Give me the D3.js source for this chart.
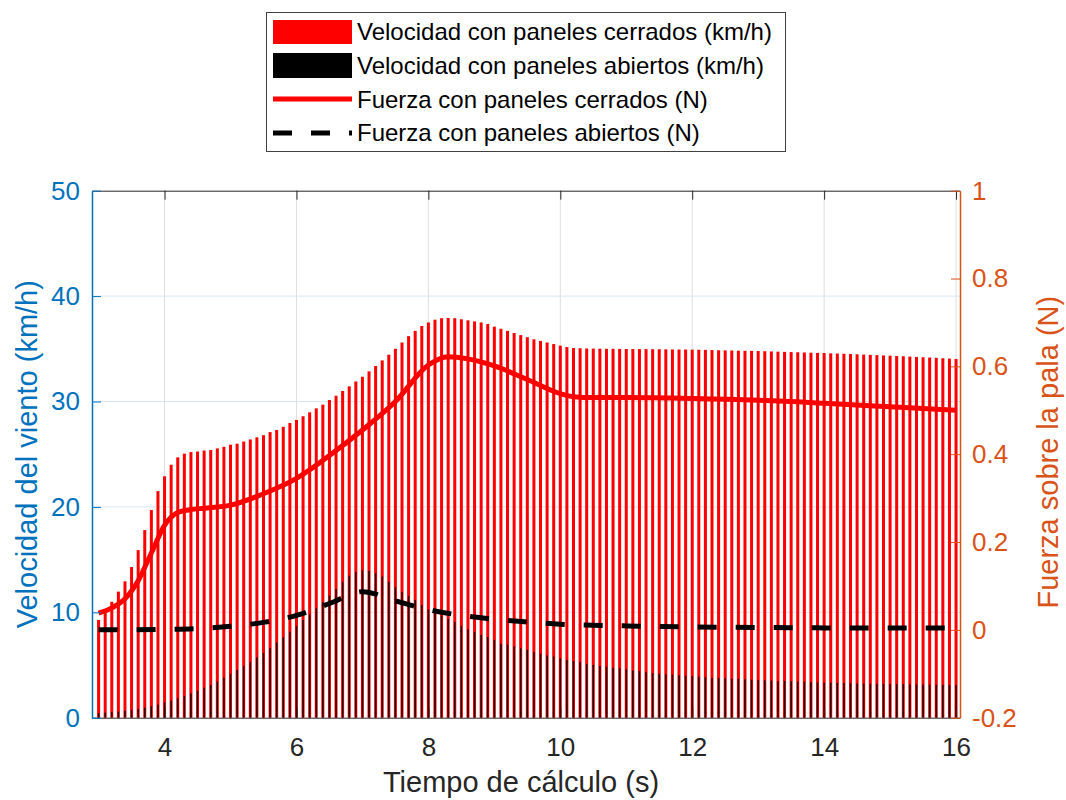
<!DOCTYPE html>
<html>
<head>
<meta charset="utf-8">
<script src="https://cdn.jsdelivr.net/npm/d3@7"></script>
<style>
  body { margin: 0; background: #fff; }
  text { font-family: "Liberation Sans", Arial, Helvetica, sans-serif; }
</style>
</head>
<body>
<div id="result"></div>
<script>
// velocidad del viento con paneles cerrados (km/h), una barra cada 0.1 s desde 3 s
const velCerrados = [
    9.27, 10.06, 11.0, 11.96, 12.94, 14.3, 15.9, 17.8, 19.7, 21.5,
    22.9, 24.0, 24.7, 25.05, 25.2, 25.25, 25.35, 25.4, 25.55, 25.7,
    25.9, 26.0, 26.2, 26.4, 26.6, 26.8, 27.1, 27.3, 27.6, 27.96,
    28.25, 28.6, 28.97, 29.35, 29.7, 30.14, 30.55, 31.0, 31.44, 31.9,
    32.35, 32.86, 33.37, 33.9, 34.44, 35.0, 35.6, 36.2, 36.7, 37.16,
    37.5, 37.76, 37.9, 37.92, 37.9, 37.8, 37.7, 37.6, 37.5, 37.35,
    37.1, 36.9, 36.7, 36.5, 36.3, 36.1, 35.9, 35.75, 35.6, 35.45,
    35.3, 35.17, 35.07, 35.05, 35.03, 35.02, 35.01, 35.0, 35.0, 34.99,
    34.98, 34.98, 34.97, 34.97, 34.96, 34.96, 34.95, 34.94, 34.93, 34.93,
    34.92, 34.91, 34.9, 34.88, 34.86, 34.85, 34.84, 34.82, 34.81, 34.8,
    34.79, 34.77, 34.75, 34.73, 34.71, 34.69, 34.67, 34.65, 34.63, 34.61,
    34.6, 34.57, 34.55, 34.53, 34.5, 34.48, 34.45, 34.42, 34.4, 34.37,
    34.35, 34.32, 34.29, 34.26, 34.23, 34.2, 34.17, 34.14, 34.1, 34.07,
    34.03
];

// velocidad del viento con paneles abiertos (km/h)
const velAbiertos = [
    0.42, 0.48, 0.54, 0.57, 0.64, 0.73, 0.83, 0.95, 1.08, 1.24,
    1.43, 1.62, 1.84, 2.06, 2.31, 2.53, 2.85, 3.1, 3.42, 3.8,
    4.15, 4.53, 4.9, 5.28, 5.73, 6.14, 6.61, 7.12, 7.63, 8.16,
    8.7, 9.27, 9.8, 10.38, 10.98, 11.58, 12.21, 12.85, 13.47, 13.82,
    13.98, 13.92, 13.7, 13.38, 12.87, 12.37, 11.93, 11.55, 11.17, 10.69,
    10.28, 9.96, 9.68, 9.36, 9.08, 8.7, 8.38, 8.13, 7.85, 7.66,
    7.37, 7.02, 6.93, 6.77, 6.6, 6.45, 6.23, 6.07, 5.91, 5.79,
    5.63, 5.47, 5.38, 5.28, 5.09, 5.0, 4.9, 4.84, 4.74, 4.68,
    4.59, 4.49, 4.4, 4.33, 4.24, 4.17, 4.11, 4.08, 4.02, 3.98,
    3.95, 3.89, 3.83, 3.79, 3.76, 3.73, 3.7, 3.67, 3.64, 3.6,
    3.57, 3.54, 3.51, 3.48, 3.48, 3.45, 3.42, 3.42, 3.38, 3.35,
    3.32, 3.32, 3.29, 3.29, 3.26, 3.25, 3.24, 3.22, 3.21, 3.2,
    3.19, 3.18, 3.17, 3.16, 3.15, 3.14, 3.13, 3.12, 3.12, 3.11,
    3.1
];

// tiempos de las barras (s)
const tiempoBarras = d3.range(velCerrados.length).map(i => +(3 + i * 0.1).toFixed(1));

// fuerza sobre la pala, paneles cerrados (N)
const tFuerzaCerrados = [3.0, 3.2, 3.4, 3.6, 3.8, 4.0, 4.2, 4.4, 4.6, 5.0, 5.5, 6.0, 6.5, 7.0, 7.5,
    8.0, 8.3, 8.6, 9.0, 9.5, 10.0, 10.2, 10.5, 11, 12, 13, 14, 15, 16];
const fuerzaCerrados = [0.038, 0.05, 0.071, 0.112, 0.175, 0.238, 0.267, 0.274, 0.277, 0.284, 0.31, 0.345, 0.397, 0.455, 0.52,
    0.603, 0.622, 0.617, 0.601, 0.57, 0.538, 0.531, 0.529, 0.529, 0.527, 0.523, 0.516, 0.508, 0.5];

// fuerza sobre la pala, paneles abiertos (N)
const tFuerzaAbiertos = [3.0, 3.5, 4.0, 4.5, 5.0, 5.5, 6.0, 6.5, 7.0, 7.5, 8.0, 8.5, 9.0, 9.5, 10, 11, 12, 13, 14, 15, 16];
const fuerzaAbiertos = [0.0, 0.0, 0.001, 0.003, 0.008, 0.017, 0.033, 0.06, 0.087, 0.066, 0.046, 0.033, 0.024, 0.018, 0.013,
    0.009, 0.0065, 0.0055, 0.0045, 0.004, 0.004];

const xTicks = [4, 6, 8, 10, 12, 14, 16];
const yLeftTicks = [0, 10, 20, 30, 40, 50];
const yRightTicks = [-0.2, 0, 0.2, 0.4, 0.6, 0.8, 1];

const legendLabels = [
    "Velocidad con paneles cerrados (km/h)",
    "Velocidad con paneles abiertos (km/h)",
    "Fuerza con paneles cerrados (N)",
    "Fuerza con paneles abiertos (N)"
];

const azul = "#0072BD";
const naranja = "#D95319";
const gris = "#262626";

const W = 1066, H = 800;
const plot = { left: 92, right: 960, top: 190.7, bottom: 717.7 };

const svg = d3.select("#result")
    .append("svg")
    .attr("width", W)
    .attr("height", H);

const x = d3.scaleLinear().domain([2.9, 16.06]).range([plot.left, plot.right]);
const yL = d3.scaleLinear().domain([0, 50]).range([plot.bottom, plot.top]);
const yR = d3.scaleLinear().domain([-0.2, 1]).range([plot.bottom, plot.top]);

// grid
svg.append("g").selectAll("line")
    .data(xTicks)
    .join("line")
    .attr("x1", d => x(d)).attr("x2", d => x(d))
    .attr("y1", plot.top).attr("y2", plot.bottom)
    .attr("stroke", "#dedede").attr("stroke-width", 1);

svg.append("g").selectAll("line")
    .data(yLeftTicks.slice(1, -1))
    .join("line")
    .attr("x1", plot.left).attr("x2", plot.right)
    .attr("y1", d => yL(d)).attr("y2", d => yL(d))
    .attr("stroke", "#d9e5f1").attr("stroke-width", 1);

// barras
const redW = 3, blackW = 1.3;
svg.append("g").selectAll("rect")
    .data(velCerrados)
    .join("rect")
    .attr("x", (d, i) => x(tiempoBarras[i]) - redW / 2)
    .attr("width", redW)
    .attr("y", d => yL(d))
    .attr("height", d => yL(0) - yL(d))
    .attr("fill", "#ff0000");

svg.append("g").selectAll("rect")
    .data(velAbiertos)
    .join("rect")
    .attr("x", (d, i) => x(tiempoBarras[i]) - blackW / 2)
    .attr("width", blackW)
    .attr("y", d => yL(d))
    .attr("height", d => yL(0) - yL(d))
    .attr("fill", "#000");

// lineas de fuerza
const lineR = d3.line()
    .x(d => x(d[0]))
    .y(d => yR(d[1]))
    .curve(d3.curveMonotoneX);

svg.append("path")
    .datum(d3.zip(tFuerzaCerrados, fuerzaCerrados))
    .attr("d", lineR)
    .attr("fill", "none")
    .attr("stroke", "#ff0000")
    .attr("stroke-width", 5)
    .attr("stroke-linejoin", "round");

svg.append("path")
    .datum(d3.zip(tFuerzaAbiertos, fuerzaAbiertos))
    .attr("d", lineR)
    .attr("fill", "none")
    .attr("stroke", "#000")
    .attr("stroke-width", 5)
    .attr("stroke-dasharray", "19,19");

// ejes
const fmt = d => String(+d.toFixed(1));

const xAxis = svg.append("g")
    .attr("transform", `translate(0,${plot.bottom})`)
    .call(d3.axisBottom(x).tickValues(xTicks).tickSize(-9).tickPadding(20).tickSizeOuter(0).tickFormat(fmt));
xAxis.select(".domain").attr("stroke", gris);
xAxis.selectAll(".tick line").attr("stroke", gris);
xAxis.selectAll("text").attr("fill", gris).style("font-size", "26px");

const xTop = svg.append("g")
    .attr("transform", `translate(0,${plot.top})`)
    .call(d3.axisTop(x).tickValues(xTicks).tickSize(-9).tickSizeOuter(0).tickFormat(""));
xTop.select(".domain").attr("stroke", gris);
xTop.selectAll(".tick line").attr("stroke", gris);

const yAxisL = svg.append("g")
    .attr("transform", `translate(${plot.left},0)`)
    .call(d3.axisLeft(yL).tickValues(yLeftTicks).tickSize(-9).tickPadding(12).tickSizeOuter(0).tickFormat(fmt));
yAxisL.select(".domain").attr("stroke", azul).attr("stroke-width", 1.5);
yAxisL.selectAll(".tick line").attr("stroke", azul);
yAxisL.selectAll("text").attr("fill", azul).style("font-size", "26px");

const yAxisR = svg.append("g")
    .attr("transform", `translate(${plot.right},0)`)
    .call(d3.axisRight(yR).tickValues(yRightTicks).tickSize(-9).tickPadding(12).tickSizeOuter(0).tickFormat(fmt));
yAxisR.select(".domain").attr("stroke", naranja).attr("stroke-width", 1.5);
yAxisR.selectAll(".tick line").attr("stroke", naranja);
yAxisR.selectAll("text").attr("fill", naranja).style("font-size", "26px");

// titulos de ejes
svg.append("text")
    .attr("x", (plot.left + plot.right) / 2 - 5)
    .attr("y", 792)
    .attr("text-anchor", "middle")
    .attr("fill", gris)
    .style("font-size", "29px")
    .text("Tiempo de cálculo (s)");

svg.append("text")
    .attr("transform", `translate(37,${(plot.top + plot.bottom) / 2}) rotate(-90)`)
    .attr("text-anchor", "middle")
    .attr("fill", azul)
    .style("font-size", "29px")
    .text("Velocidad del viento (km/h)");

svg.append("text")
    .attr("transform", `translate(1058,${(plot.top + plot.bottom) / 2 - 2}) rotate(-90)`)
    .attr("text-anchor", "middle")
    .attr("fill", naranja)
    .style("font-size", "29px")
    .text("Fuerza sobre la pala (N)");

// leyenda
const legend = svg.append("g");
legend.append("rect")
    .attr("x", 266.5).attr("y", 12.5)
    .attr("width", 519).attr("height", 139)
    .attr("fill", "#fff")
    .attr("stroke", "#404040")
    .attr("stroke-width", 1);

const rowY = [32, 66, 100, 133];
legend.append("rect").attr("x", 273).attr("y", 20).attr("width", 79).attr("height", 24).attr("fill", "#ff0000");
legend.append("rect").attr("x", 273).attr("y", 53).attr("width", 79).attr("height", 25).attr("fill", "#000");
legend.append("line").attr("x1", 273).attr("x2", 352).attr("y1", rowY[2] - 1).attr("y2", rowY[2] - 1)
    .attr("stroke", "#ff0000").attr("stroke-width", 5);
legend.append("line").attr("x1", 273).attr("x2", 352).attr("y1", rowY[3]).attr("y2", rowY[3])
    .attr("stroke", "#000").attr("stroke-width", 5).attr("stroke-dasharray", "19,19");

legend.selectAll("text.lab")
    .data(legendLabels)
    .join("text")
    .attr("class", "lab")
    .attr("x", 357)
    .attr("y", (d, i) => rowY[i])
    .attr("dy", "0.35em")
    .attr("fill", "#000")
    .style("font-size", "24px")
    .text(d => d);
</script>
</body>
</html>
